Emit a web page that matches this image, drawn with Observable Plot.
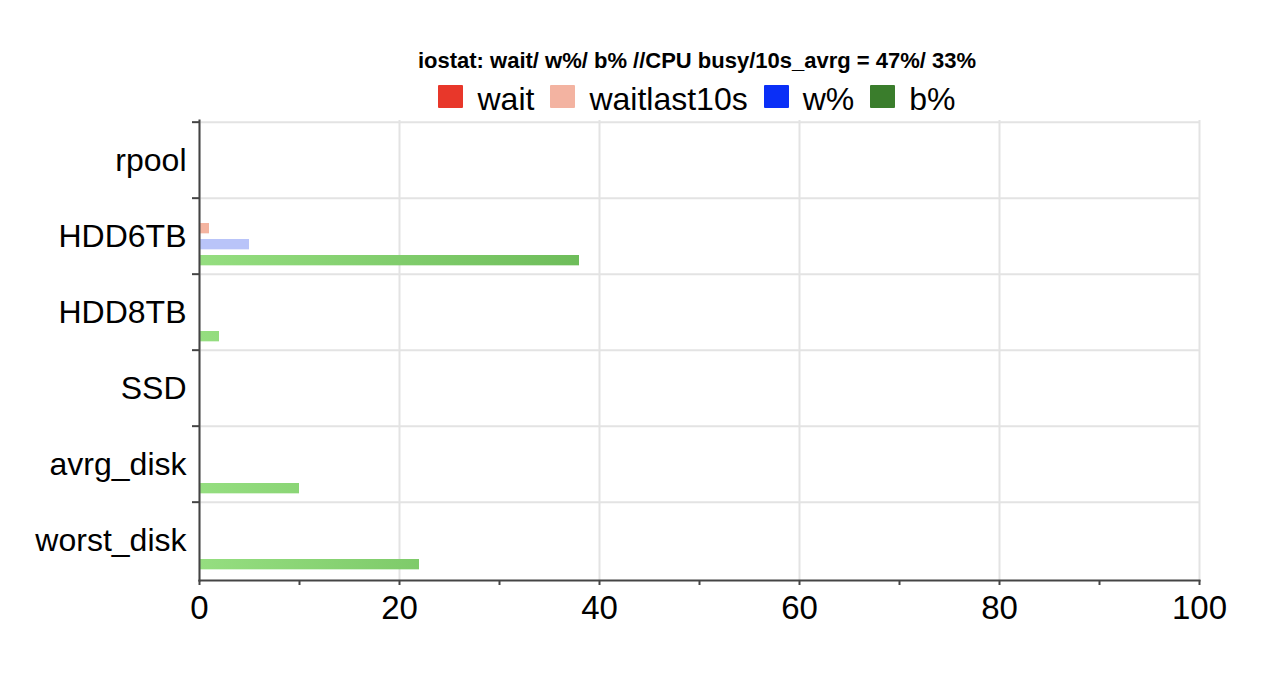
<!DOCTYPE html>
<html>
<head>
<meta charset="utf-8">
<script src="https://cdn.jsdelivr.net/npm/d3@7"></script>
<script src="https://cdn.jsdelivr.net/npm/@observablehq/plot@0.6"></script>
<style>
  html, body { margin: 0; padding: 0; background: #fff; }
  body { width: 1272px; height: 678px; overflow: hidden; font-family: "Liberation Sans", Arial, sans-serif; }
  #head { position: relative; width: 1272px; height: 110px; }
  #title { position: absolute; left: 197px; width: 1000px; top: 50px; text-align: center;
           font-weight: bold; font-size: 22px; line-height: 22px; color: #000; }
  #legend { position: absolute; left: 197px; width: 1000px; top: 83px; display: flex;
            justify-content: center; align-items: flex-start; font-size: 32px; line-height: 32px; color: #000; }
  .item { display: flex; align-items: flex-start; margin: 0 8px; }
  .sw { width: 25px; height: 23px; margin-top: 2px; margin-right: 14px; border-radius: 1px; }
  #chart svg { display: block; }
</style>
</head>
<body>
<div id="head">
  <div id="title"></div>
  <div id="legend"></div>
</div>
<div id="chart"></div>
<script>
const titleText = "iostat: wait/ w%/ b% //CPU busy/10s_avrg = 47%/ 33%";
const disks = ["rpool", "HDD6TB", "HDD8TB", "SSD", "avrg_disk", "worst_disk"];
const seriesNames = ["wait", "waitlast10s", "w%", "b%"];
const waitValues =        [0, 0, 0, 0, 0, 0];
const waitlast10sValues = [0, 1, 0, 0, 0, 0];
const wPctValues =        [0, 5, 0, 0, 0, 0];
const bPctValues =        [0, 38, 2, 0, 10, 22];
const xTicks = [0, 20, 40, 60, 80, 100];
const xMinorTicks = [0, 10, 20, 30, 40, 50, 60, 70, 80, 90, 100];
const legendColors = ["#e8372a", "#f3b3a1", "#0a2ff7", "#3a7d2c"];
const barColors = ["#f28b80", "#f4b4a0", "#b9c4f9", "url(#bgrad)"];

document.getElementById("title").textContent = titleText;
const leg = document.getElementById("legend");
seriesNames.forEach((s, i) => {
  const it = document.createElement("div"); it.className = "item";
  const sw = document.createElement("div"); sw.className = "sw"; sw.style.background = legendColors[i];
  const tx = document.createElement("span"); tx.textContent = s;
  it.appendChild(sw); it.appendChild(tx); leg.appendChild(it);
});

const W = 1272, H = 568, mT = 10, mB = 98, mL = 199, mR = 73;
const band = (H - mT - mB) / disks.length;
const barH = 11, step = 16, firstOff = 9;
const seriesValues = [waitValues, waitlast10sValues, wPctValues, bPctValues];

const barMarks = seriesValues.map((vals, i) => {
  const top = firstOff + step * i;
  return Plot.barX(disks.map((d, j) => ({disk: d, value: vals[j]})).filter(r => r.value > 0), {
    x: "value", y: "disk", fill: barColors[i],
    insetTop: top, insetBottom: band - top - barH
  });
});

const plot = Plot.plot({
  width: W, height: H,
  marginTop: mT, marginBottom: mB, marginLeft: mL, marginRight: mR,
  style: {fontFamily: "'Liberation Sans', Arial, sans-serif", color: "#000", background: "#fff"},
  x: {domain: [0, 100], axis: null, label: null},
  y: {domain: disks, padding: 0, axis: null, label: null},
  marks: [
    Plot.gridX({ticks: xTicks, stroke: "#e3e3e3", strokeOpacity: 1, strokeWidth: 2}),
    Plot.gridY({stroke: "#e3e3e3", strokeOpacity: 1, strokeWidth: 2, dy: -band / 2}),
    ...barMarks,
    Plot.frame({anchor: "left", stroke: "#444", strokeWidth: 2}),
    Plot.frame({anchor: "bottom", stroke: "#444", strokeWidth: 2}),
    Plot.axisY({anchor: "left", tickSize: 7, text: null, label: null, stroke: "#444", strokeWidth: 2, dy: -band / 2}),
    Plot.axisY({anchor: "left", tickSize: 0, tickPadding: 13, fontSize: 32, label: null}),
    Plot.axisX({ticks: xMinorTicks, tickSize: 5, text: null, label: null, stroke: "#444", strokeWidth: 2}),
    Plot.axisX({ticks: xTicks, tickSize: 0, tickPadding: 15, fontSize: 33, label: null, tickFormat: d => String(d)})
  ]
});

const xs = plot.scale("x");
const svg = d3.select(plot);
const defs = svg.insert("defs", ":first-child");
const g = defs.append("linearGradient").attr("id", "bgrad")
  .attr("gradientUnits", "userSpaceOnUse")
  .attr("x1", xs.apply(0)).attr("x2", xs.apply(40)).attr("y1", 0).attr("y2", 0);
g.append("stop").attr("offset", "0%").attr("stop-color", "#95de80");
g.append("stop").attr("offset", "100%").attr("stop-color", "#6cbb58");

document.getElementById("chart").appendChild(plot);
</script>
</body>
</html>
